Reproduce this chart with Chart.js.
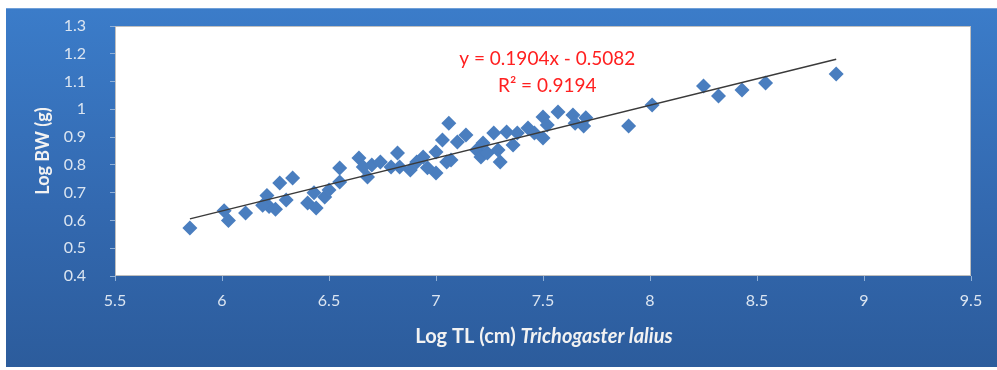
<!DOCTYPE html>
<html>
<head>
<meta charset="utf-8">
<script src="https://cdn.jsdelivr.net/npm/chart.js@4/dist/chart.umd.min.js"></script>
<style>
  html, body { margin: 0; padding: 0; background: #ffffff; }
  #wrap {
    position: absolute; left: 6px; top: 8px; width: 991px; height: 359px;
    background: linear-gradient(to bottom, #3b7cc9 0%, #3369b0 55%, #2c5c9c 100%);
    border-top: 1px solid #6f9fd8;
    box-sizing: border-box;
  }
  canvas { display: block; }
</style>
</head>
<body>
<div id="wrap"><canvas id="c" width="991" height="358"></canvas></div>
<script>
// ---- data ----
const logTL = [5.85, 6.01, 6.03, 6.11, 6.21, 6.22, 6.19, 6.25, 6.27, 6.33,
               6.30, 6.40, 6.43, 6.44, 6.48, 6.50, 6.55, 6.55, 6.64, 6.66,
               6.68, 6.70, 6.74, 6.79, 6.82, 6.83, 6.88, 6.91, 6.94, 7.00,
               7.00, 7.03, 7.05, 7.06, 6.96, 7.07, 7.10, 7.14, 7.19, 7.21,
               7.24, 7.27, 7.29, 7.30, 7.33, 7.36, 7.38, 7.43, 7.46, 7.50,
               7.50, 7.52, 7.57, 7.64, 7.65, 7.69, 7.70, 7.90, 8.01, 8.25,
               8.32, 8.43, 8.54, 8.87, 7.22];
const logBW = [0.573, 0.635, 0.600, 0.627, 0.690, 0.650, 0.655, 0.640, 0.735, 0.753,
               0.674, 0.663, 0.700, 0.645, 0.684, 0.710, 0.789, 0.738, 0.825, 0.792,
               0.756, 0.800, 0.810, 0.792, 0.843, 0.792, 0.782, 0.810, 0.828, 0.771,
               0.846, 0.890, 0.810, 0.950, 0.790, 0.818, 0.882, 0.908, 0.854, 0.828,
               0.843, 0.915, 0.854, 0.810, 0.918, 0.872, 0.915, 0.933, 0.915, 0.972,
               0.897, 0.944, 0.990, 0.980, 0.950, 0.940, 0.970, 0.940, 1.016, 1.084,
               1.048, 1.070, 1.095, 1.127, 0.879];
const slope = 0.1904;
const intercept = -0.5082;
const equationText = 'y = 0.1904x - 0.5082';
const r2Text = 'R² = 0.9194';
const equationPos = {x: 7.52, y: 1.180};
const r2Pos = {x: 7.52, y: 1.086};
const yTitle = 'Log BW (g)';
const xTitleMain = 'Log TL (cm) ';
const xTitleSpecies = 'Trichogaster lalius';
const xTicks = [5.5, 6, 6.5, 7, 7.5, 8, 8.5, 9, 9.5];
const yTicks = [0.4, 0.5, 0.6, 0.7, 0.8, 0.9, 1, 1.1, 1.2, 1.3];

const points = logTL.map((x, i) => ({x: x, y: logBW[i]}));
const xMin = Math.min(...logTL), xMax = Math.max(...logTL);
const trend = [xMin, xMax].map(x => ({x: x, y: slope * x + intercept}));

const FONT = 'Lato, "Open Sans", sans-serif';
const tickColor = '#dbe5f1';

const plotBg = {
  id: 'plotBg',
  beforeDraw(chart) {
    const {ctx, chartArea: a} = chart;
    ctx.save();
    ctx.fillStyle = '#ffffff';
    ctx.fillRect(a.left, a.top, a.right - a.left, a.bottom - a.top);
    ctx.strokeStyle = '#bfbfbf';
    ctx.lineWidth = 1;
    ctx.strokeRect(a.left + 0.5, a.top + 0.5, a.right - a.left - 1, a.bottom - a.top - 1);
    ctx.restore();
  },
  afterDraw(chart) {
    const {ctx, scales: {x, y}} = chart;
    ctx.save();
    ctx.fillStyle = '#ff2020';
    ctx.font = '19px ' + FONT;
    ctx.textAlign = 'center';
    ctx.textBaseline = 'middle';
    ctx.fillText(equationText, x.getPixelForValue(equationPos.x), y.getPixelForValue(equationPos.y));
    ctx.fillText(r2Text, x.getPixelForValue(r2Pos.x), y.getPixelForValue(r2Pos.y));
    ctx.fillStyle = '#f2f2f2';
    const f1 = 'bold 20px ' + FONT, f2 = 'italic bold 20px ' + FONT;
    ctx.font = f1; const w1 = ctx.measureText(xTitleMain).width;
    ctx.font = f2; const w2 = ctx.measureText(xTitleSpecies).width;
    const cx = 538, cy = 328;
    let sx = cx - (w1 + w2) / 2;
    ctx.textAlign = 'left';
    ctx.font = f1; ctx.fillText(xTitleMain, sx, cy);
    ctx.font = f2; ctx.fillText(xTitleSpecies, sx + w1, cy);
    ctx.restore();
  }
};

new Chart(document.getElementById('c'), {
  type: 'scatter',
  data: {
    datasets: [
      {
        type: 'line',
        label: 'Linear trend',
        data: trend,
        borderColor: '#3a3a3a',
        borderWidth: 1.5,
        pointRadius: 0,
        fill: false,
        order: 0
      },
      {
        label: 'Log BW',
        data: points,
        pointStyle: 'rectRot',
        pointRadius: 7.5,
        pointHoverRadius: 7.5,
        backgroundColor: '#4a7ebf',
        borderColor: '#4a7ebf',
        borderWidth: 0,
        order: 1
      }
    ]
  },
  options: {
    responsive: false,
    animation: false,
    devicePixelRatio: 1,
    layout: {padding: {left: 0, right: 26, top: 17, bottom: 0}},
    plugins: {legend: {display: false}, tooltip: {enabled: false}},
    scales: {
      x: {
        type: 'linear', min: 5.5, max: 9.5,
        afterBuildTicks: s => { s.ticks = xTicks.map(v => ({value: v})); },
        afterFit: s => { s.height = 91; },
        grid: {drawOnChartArea: false, drawTicks: true, tickLength: 5, color: '#8fb0d8'},
        border: {display: false},
        ticks: {color: tickColor, font: {family: FONT, size: 16}, padding: 10, maxRotation: 0,
                callback: v => String(v)}
      },
      y: {
        type: 'linear', min: 0.4, max: 1.3,
        afterBuildTicks: s => { s.ticks = yTicks.map(v => ({value: v})); },
        afterFit: s => { s.width = 109; s.paddingTop = 0; s.paddingBottom = 0; },
        grid: {drawOnChartArea: false, drawTicks: true, tickLength: 5, color: '#8fb0d8'},
        border: {display: false},
        title: {display: true, text: yTitle, color: '#f2f2f2',
                font: {family: FONT, size: 18, weight: 'bold'}, padding: {top: 26, bottom: 4}},
        ticks: {color: tickColor, font: {family: FONT, size: 16}, padding: 24,
                callback: v => String(Math.round(v * 10) / 10)}
      }
    }
  },
  plugins: [plotBg]
});
</script>
</body>
</html>
